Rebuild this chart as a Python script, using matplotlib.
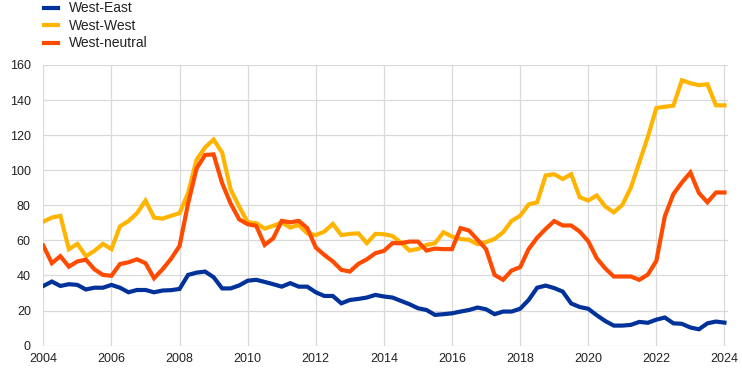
#Imported Libraries
import numpy as np
import matplotlib
matplotlib.use('Agg')
import matplotlib.pyplot as plt

# Quarterly data, 2004Q1 - 2024Q1
start_year = 2004
west_east = [34, 36.5, 34, 35,
             34.6, 32, 33, 33,
             34.6, 33, 30.4, 31.7,
             31.7, 30.4, 31.4, 31.6,
             32.3, 40.3, 41.6, 42.2,
             39, 32.6, 32.6, 34.3,
             37, 37.5, 36.3, 35,
             33.6, 35.6, 33.6, 33.6,
             30.4, 28.3, 28.3, 24.1,
             26, 26.6, 27.4, 28.9,
             28, 27.4, 25.5, 23.6,
             21.3, 20.3, 17.5, 17.9,
             18.4, 19.4, 20.3, 21.7,
             20.7, 17.9, 19.4, 19.4,
             21, 26, 33, 34.2,
             32.8, 30.8, 24, 22,
             21, 17.3, 14, 11.4,
             11.4, 11.8, 13.5, 13,
             14.8, 16, 12.7, 12.4,
             10.3, 9.3, 12.7, 13.7,
             13.1]
west_west = [70.7, 73, 74, 55,
             58, 51, 54, 58,
             55, 68, 71, 75.5,
             82.7, 73, 72.4, 74,
             75.5, 87, 106, 113,
             117.5, 110, 89, 79.3,
             70.3, 69.8, 66.7, 68.3,
             70.2, 67.3, 68.8, 64,
             63, 65, 69.4, 63,
             63.7, 64, 58.4, 63.7,
             63.5, 62.5, 58.7, 54.2,
             55.1, 57.4, 58.4, 64.6,
             62.2, 60.8, 60.3, 57.8,
             59, 60.8, 64.6, 71.1,
             74, 80.5, 81.7, 97,
             97.7, 95, 97.7, 84.6,
             82.7, 85.6, 79.3, 76,
             80.2, 90, 104.5, 119,
             135.5, 136.2, 136.8, 151.3,
             149.6, 148.5, 149, 137,
             137]
west_neutral = [57, 47, 51, 45,
                48, 49, 43.5, 40.3,
                39.8, 46.5, 47.5, 49.2,
                47, 38.4, 43.5, 49.5,
                56.8, 81, 101, 108.7,
                109, 92.6, 81, 72,
                69.2, 68.3, 57.4, 61.2,
                71.1, 70.3, 71.1, 67,
                55.9, 51.7, 48, 43.2,
                42.2, 46.6, 49.2, 52.7,
                54, 58.4, 58.4, 59.3,
                59.3, 54.2, 55.3, 55,
                55, 67, 65.6, 60.3,
                55, 40.3, 37.5, 42.8,
                44.7, 55, 61.5, 66.5,
                71, 68.5, 68.5, 65,
                59.5, 49.8, 44, 39.4,
                39.4, 39.4, 37.5, 40.5,
                48.3, 73.8, 86.4, 93,
                98.7, 87, 81.7, 87.3,
                87.3]
series_names = ['West-East', 'West-West', 'West-neutral']
series_colors = ['#003299', '#FFB400', '#FF4B00']
year_ticks = list(range(2004, 2025, 2))
value_ticks = list(range(0, 161, 20))

dates = start_year + np.arange(len(west_east)) * 0.25

plt.rcParams['font.family'] = ['Liberation Sans', 'DejaVu Sans']

fig = plt.figure(figsize=(7.42, 3.71), dpi=100)
ax = fig.add_axes([0.0584, 0.0685, 0.9221, 0.7563])

lines = []
for values, name, colour in zip([west_east, west_west, west_neutral], series_names, series_colors):
    ln, = ax.plot(dates, values, color=colour, linewidth=3, label=name,
                  solid_joinstyle='miter', zorder=3)
    lines.append(ln)

ax.set_xlim(2004, 2024.09)
ax.set_ylim(0, 160)
ax.set_xticks(year_ticks)
ax.set_yticks(value_ticks)
ax.grid(True, color='#d9d9d9', linewidth=0.9)
ax.set_axisbelow(True)
for s in ax.spines.values():
    s.set_visible(False)
ax.tick_params(axis='both', length=0, labelsize=9, colors='#222222')
ax.tick_params(axis='y', pad=9)
ax.tick_params(axis='x', pad=5)

# Legend in the top-left corner
leg = fig.legend(handles=lines, loc='upper left', bbox_to_anchor=(0.052, 1.011),
                 frameon=False, fontsize=10, handlelength=1.0, handleheight=0.6,
                 handletextpad=0.75, labelspacing=0.25, borderaxespad=0)
for t in leg.get_texts():
    t.set_color('#222222')

fig.savefig('out.png', dpi=100)
